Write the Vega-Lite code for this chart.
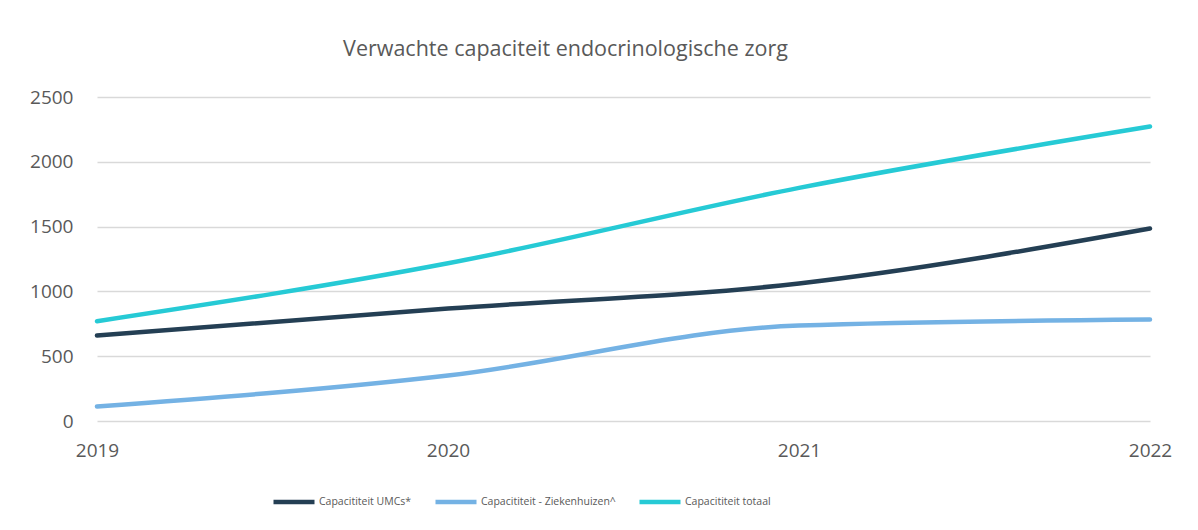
{
  "$schema": "https://vega.github.io/schema/vega-lite/v6.json",
  "width": 1053,
  "height": 324,
  "autosize": {"type": "none"},
  "padding": {"left": 97, "top": 97, "right": 48, "bottom": 109},
  "background": "white",
  "title": {
    "text": "Verwachte capaciteit endocrinologische zorg",
    "anchor": "middle",
    "dx": -58,
    "offset": 11,
    "baseline": "alphabetic",
    "font": "Open Sans",
    "fontSize": 21.5,
    "fontWeight": "normal",
    "color": "#595959"
  },
  "data": {
    "values": [
      {"jaar": "2019", "reeks": "Capacititeit UMCs*", "waarde": 660},
      {"jaar": "2020", "reeks": "Capacititeit UMCs*", "waarde": 868},
      {"jaar": "2021", "reeks": "Capacititeit UMCs*", "waarde": 1061},
      {"jaar": "2022", "reeks": "Capacititeit UMCs*", "waarde": 1485},
      {"jaar": "2019", "reeks": "Capacititeit - Ziekenhuizen^", "waarde": 112},
      {"jaar": "2020", "reeks": "Capacititeit - Ziekenhuizen^", "waarde": 351},
      {"jaar": "2021", "reeks": "Capacititeit - Ziekenhuizen^", "waarde": 737},
      {"jaar": "2022", "reeks": "Capacititeit - Ziekenhuizen^", "waarde": 783},
      {"jaar": "2019", "reeks": "Capacititeit totaal", "waarde": 770},
      {"jaar": "2020", "reeks": "Capacititeit totaal", "waarde": 1217},
      {"jaar": "2021", "reeks": "Capacititeit totaal", "waarde": 1799},
      {"jaar": "2022", "reeks": "Capacititeit totaal", "waarde": 2272}
    ]
  },
  "mark": {"type": "line", "interpolate": "monotone", "strokeWidth": 4.5, "strokeCap": "round"},
  "encoding": {
    "x": {
      "field": "jaar",
      "type": "ordinal",
      "scale": {"type": "point", "padding": 0},
      "axis": {
        "title": null,
        "labelAngle": 0,
        "domain": false,
        "ticks": false,
        "grid": false,
        "labelPadding": 20,
        "labelFont": "Open Sans",
        "labelFontSize": 19,
        "labelColor": "#595959"
      }
    },
    "y": {
      "field": "waarde",
      "type": "quantitative",
      "scale": {"domain": [0, 2500], "nice": false},
      "axis": {
        "title": null,
        "values": [0, 500, 1000, 1500, 2000, 2500],
        "format": "d",
        "domain": false,
        "ticks": false,
        "grid": true,
        "gridColor": "#d9d9d9",
        "gridWidth": 1.3,
        "labelPadding": 24,
        "labelFont": "Open Sans",
        "labelFontSize": 19,
        "labelColor": "#595959"
      }
    },
    "color": {
      "field": "reeks",
      "type": "nominal",
      "sort": ["Capacititeit UMCs*", "Capacititeit - Ziekenhuizen^", "Capacititeit totaal"],
      "scale": {
        "domain": ["Capacititeit UMCs*", "Capacititeit - Ziekenhuizen^", "Capacititeit totaal"],
        "range": ["#243F54", "#74B2E4", "#26CAD5"]
      },
      "legend": {
        "title": null,
        "orient": "none",
        "direction": "horizontal",
        "legendX": 174,
        "legendY": 382,
        "symbolType": "stroke",
        "symbolSize": 1681,
        "symbolStrokeWidth": 4.5,
        "labelOffset": 2,
        "columnPadding": 14,
        "labelFont": "Open Sans",
        "labelFontSize": 10.5,
        "labelColor": "#595959",
        "labelLimit": 300
      }
    }
  },
  "config": {
    "view": {"stroke": null}
  }
}
